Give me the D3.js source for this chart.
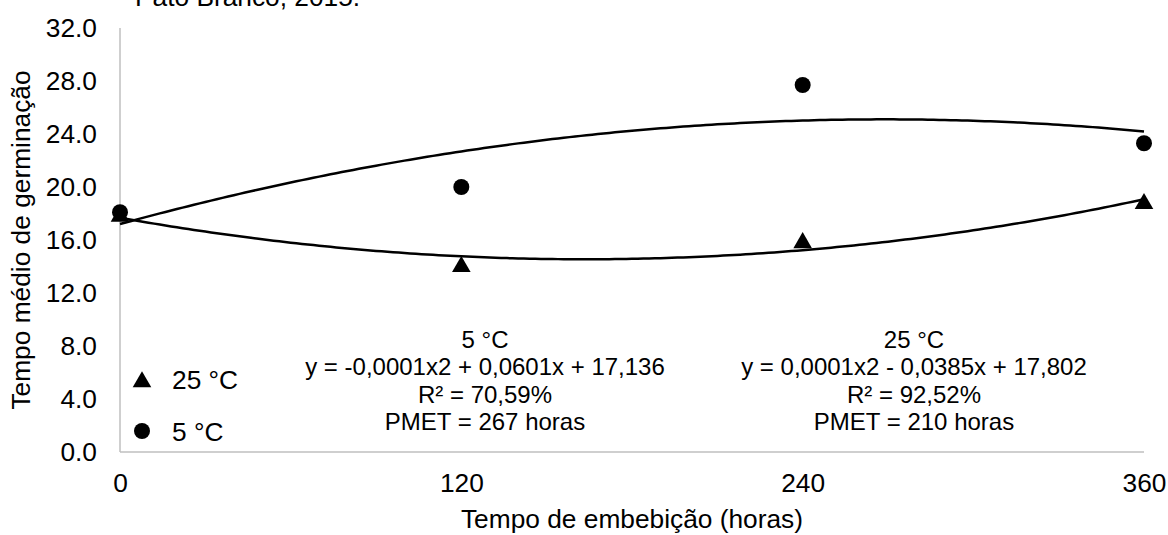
<!DOCTYPE html>
<html>
<head>
<meta charset="utf-8">
<script src="https://cdn.jsdelivr.net/npm/d3@7"></script>
<style>
  html, body { margin: 0; padding: 0; background: #fff; }
  svg { display: block; font-family: "Liberation Sans", Arial, sans-serif; }
</style>
</head>
<body>
<svg id="chart" width="1168" height="535"></svg>
<script>
// Soaking time (hours)
const hours = [0, 120, 240, 360];
// Mean germination time for each temperature
const temp25 = [17.9, 14.1, 15.9, 18.85];
const temp5 = [18.1, 20.0, 27.7, 23.3];
// Axis ticks
const yTicks = [0, 4, 8, 12, 16, 20, 24, 28, 32];
const xTicks = [0, 120, 240, 360];
// Regression annotations
const note5 = ["5 °C", "y = -0,0001x2 + 0,0601x + 17,136", "R² = 70,59%", "PMET = 267 horas"];
const note25 = ["25 °C", "y = 0,0001x2 - 0,0385x + 17,802", "R² = 92,52%", "PMET = 210 horas"];

const svg = d3.select("#chart");
const plotLeft = 120, plotRight = 1144, plotTop = 28, plotBottom = 452;
const fontSize = 26.3;

const x = d3.scaleLinear().domain([0, 360]).range([plotLeft, plotRight]);
const y = d3.scaleLinear().domain([0, 32]).range([plotBottom, plotTop]);

// Least-squares quadratic trend for a series
function quadFit(xs, ys) {
  const n = xs.length;
  const s = [0, 0, 0, 0, 0], t = [0, 0, 0];
  for (let i = 0; i < n; i++) {
    const xi = xs[i], yi = ys[i];
    for (let k = 0; k <= 4; k++) s[k] += Math.pow(xi, k);
    for (let k = 0; k <= 2; k++) t[k] += yi * Math.pow(xi, k);
  }
  const A = [[s[0], s[1], s[2], t[0]], [s[1], s[2], s[3], t[1]], [s[2], s[3], s[4], t[2]]];
  for (let c = 0; c < 3; c++) {
    let p = c;
    for (let r = c + 1; r < 3; r++) if (Math.abs(A[r][c]) > Math.abs(A[p][c])) p = r;
    [A[c], A[p]] = [A[p], A[c]];
    for (let r = 0; r < 3; r++) {
      if (r === c) continue;
      const f = A[r][c] / A[c][c];
      for (let k = c; k < 4; k++) A[r][k] -= f * A[c][k];
    }
  }
  const c0 = A[0][3] / A[0][0], c1 = A[1][3] / A[1][1], c2 = A[2][3] / A[2][2];
  return v => c0 + c1 * v + c2 * v * v;
}

// Axes
const axisColor = "#bfbfbf";
svg.append("line").attr("x1", plotLeft).attr("x2", plotLeft).attr("y1", y(32)).attr("y2", plotBottom)
  .attr("stroke", axisColor).attr("stroke-width", 1.5);
svg.append("line").attr("x1", plotLeft).attr("x2", plotRight).attr("y1", plotBottom).attr("y2", plotBottom)
  .attr("stroke", axisColor).attr("stroke-width", 1.5);

const yAxis = d3.axisLeft(y).tickValues(yTicks).tickFormat(d3.format(".1f")).tickSize(0).tickPadding(23);
const gy = svg.append("g").attr("transform", `translate(${plotLeft},0)`).call(yAxis);
gy.select(".domain").remove();
gy.selectAll("text").attr("font-size", fontSize).attr("fill", "#000").attr("font-family", "Liberation Sans, Arial, sans-serif");

const xAxis = d3.axisBottom(x).tickValues(xTicks).tickFormat(d3.format("d")).tickSize(0).tickPadding(21);
const gx = svg.append("g").attr("transform", `translate(0,${plotBottom})`).call(xAxis);
gx.select(".domain").remove();
gx.selectAll("text").attr("font-size", fontSize).attr("fill", "#000").attr("font-family", "Liberation Sans, Arial, sans-serif");

// Axis titles
svg.append("text").attr("x", (plotLeft + plotRight) / 2).attr("y", 528).attr("text-anchor", "middle")
  .attr("font-size", fontSize).text("Tempo de embebição (horas)");
svg.append("text").attr("transform", `translate(30,${(plotTop + plotBottom) / 2}) rotate(-90)`)
  .attr("text-anchor", "middle").attr("font-size", fontSize).text("Tempo médio de germinação");

// Caption line above the plot
svg.append("text").attr("x", 135).attr("y", 6).attr("font-size", fontSize).text("Pato Branco, 2015.");

// Markers
const tri = d3.symbol().type(d3.symbolTriangle).size(150);
svg.append("g").selectAll("path").data(hours).join("path")
  .attr("d", tri).attr("transform", (d, i) => `translate(${x(d)},${y(temp25[i]) + 1.5})`).attr("fill", "#000");
svg.append("g").selectAll("circle").data(hours).join("circle")
  .attr("cx", d => x(d)).attr("cy", (d, i) => y(temp5[i])).attr("r", 8).attr("fill", "#000");

// Trend curves
const grid = d3.range(0, 360.01, 2);
const line = d3.line().x(d => x(d[0])).y(d => y(d[1])).curve(d3.curveLinear);
[temp5, temp25].forEach(series => {
  const f = quadFit(hours, series);
  svg.append("path").datum(grid.map(v => [v, f(v)])).attr("d", line)
    .attr("fill", "none").attr("stroke", "#000").attr("stroke-width", 2.5);
});

// Legend
svg.append("path").attr("d", tri).attr("transform", "translate(142,382)").attr("fill", "#000");
svg.append("text").attr("x", 172).attr("y", 389).attr("font-size", fontSize).text("25 °C");
svg.append("circle").attr("cx", 142).attr("cy", 431).attr("r", 8).attr("fill", "#000");
svg.append("text").attr("x", 172).attr("y", 441).attr("font-size", fontSize).text("5 °C");

// Regression notes
function note(lines, cx) {
  const t = svg.append("text").attr("text-anchor", "middle").attr("font-size", 24);
  lines.forEach((s, i) => t.append("tspan").attr("x", cx).attr("y", 348 + i * 27.3).text(s));
}
note(note5, 485);
note(note25, 914);
</script>
</body>
</html>
